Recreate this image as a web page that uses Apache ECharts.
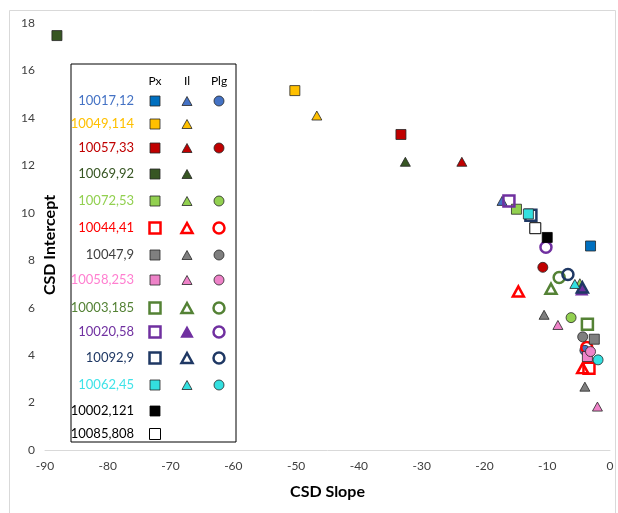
<!DOCTYPE html>
<html>
<head>
<meta charset="utf-8">
<script src="https://cdn.jsdelivr.net/npm/echarts@6/dist/echarts.min.js"></script>
<style>
  html, body { margin: 0; padding: 0; background: #fff; }
  #chart { width: 618px; height: 513px; }
</style>
</head>
<body>
<div id="chart"></div>
<script>
// ---------- data ----------
const samples = ['10017,12', '10049,114', '10057,33', '10069,92', '10072,53', '10044,41', '10047,9',
                 '10058,253', '10003,185', '10020,58', '10092,9', '10062,45', '10002,121', '10085,808'];
const minerals = ['Px', 'Il', 'Plg'];
const xTicks = [-90, -80, -70, -60, -50, -40, -30, -20, -10, 0];
const yTicks = [0, 2, 4, 6, 8, 10, 12, 14, 16, 18];

// [CSD slope, CSD intercept] per sample
const pxPoints = [
  [[-3.1, 8.6]],
  [[-50.2, 15.15]],
  [[-33.3, 13.3]],
  [[-88.1, 17.47]],
  [[-14.9, 10.15]],
  [[-3.35, 3.45]],
  [[-2.5, 4.67]],
  [[-3.6, 3.94]],
  [[-3.6, 5.3]],
  [[-16.1, 10.5]],
  [[-12.6, 9.9]],
  [[-13.0, 9.95]],
  [[-10.0, 8.96]],
  [[-11.9, 9.35]]
];
const ilPoints = [
  [[-17.2, 10.5]],
  [[-46.7, 14.1]],
  [[-23.6, 12.15]],
  [[-32.6, 12.15]],
  [[-4.8, 7.03]],
  [[-14.6, 6.68], [-4.35, 3.45]],
  [[-10.5, 5.7], [-4.0, 2.67]],
  [[-8.3, 5.27], [-2.0, 1.83]],
  [[-9.4, 6.8]],
  [[-4.5, 6.75]],
  [[-4.4, 6.85]],
  [[-5.6, 7.0]],
  [],
  []
];
const plgPoints = [
  [[-4.0, 4.2]],
  [],
  [[-10.7, 7.7]],
  [],
  [[-6.2, 5.58]],
  [[-3.7, 4.32]],
  [[-4.35, 4.77]],
  [[-3.1, 4.15]],
  [[-8.1, 7.27]],
  [[-10.2, 8.55]],
  [[-6.7, 7.4]],
  [[-1.9, 3.8]],
  [],
  []
];

// ---------- styles ----------
const textColors = ['#4472C4', '#FFC000', '#C00000', '#375623', '#92D050', '#FF0000', '#404040',
                    '#FF7FD0', '#548235', '#7030A0', '#1F3864', '#3FE3E8', '#000000', '#000000'];
const markColors = ['#4472C4', '#FFC000', '#C00000', '#375623', '#92D050', '#FF0000', '#7F7F7F',
                    '#EE82C8', '#548235', '#7030A0', '#1F3864', '#33E0E0', '#000000', '#FFFFFF'];
const pxColors   = ['#0070C0', '#FFC000', '#C00000', '#375623', '#92D050', '#FF0000', '#7F7F7F',
                    '#EE82C8', '#548235', '#7030A0', '#1F3864', '#33E0E0', '#000000', '#FFFFFF'];
const openMarks  = [false, false, false, false, false, true, false, false, true, true, true, false, false, false];
const symbols = { Px: 'rect', Il: 'triangle', Plg: 'circle' };
const FONT = 'Lato, "Liberation Sans", sans-serif';

function markStyle(i, m) {
  const open = openMarks[i];
  const col = m === 'Px' ? pxColors[i] : markColors[i];
  if (open) {
    // 10020,58 triangle is filled purple
    if (i === 9 && m === 'Il') return { fill: col, stroke: col, lw: 1.5, size: 11 };
    return { fill: 'rgba(255,255,255,0)', stroke: col, lw: 2.5, size: 11 };
  }
  if (i === 13) return { fill: '#FFFFFF', stroke: '#000000', lw: 1, size: 11 };
  return { fill: col, stroke: i === 12 ? '#000000' : '#262626', lw: 0.8, size: 10 };
}

const pointSets = { Px: pxPoints, Il: ilPoints, Plg: plgPoints };
const series = [];
samples.forEach((name, i) => {
  minerals.forEach(m => {
    const pts = pointSets[m][i];
    if (!pts.length) return;
    const st = markStyle(i, m);
    series.push({
      type: 'scatter',
      name: name + ' ' + m,
      data: pts,
      symbol: symbols[m],
      symbolSize: m === 'Il' ? [st.size, st.size - 1] : st.size,
      itemStyle: { color: st.fill, borderColor: st.stroke, borderWidth: st.lw, opacity: 1 },
      emphasis: { disabled: true },
      z: 3
    });
  });
});

// ---------- custom legend table ----------
const legX = 71, legY = 64, legW = 165, legH = 378;
const rowY = [101, 124, 148, 174, 201, 228, 255, 280, 308, 332, 358, 385, 411, 434];
const colX = { Px: 155, Il: 187, Plg: 219 };
const graphics = [];
graphics.push({
  type: 'rect', left: 7, top: 8, z: 0, silent: true,
  shape: { width: 606, height: 520 },
  style: { fill: 'none', stroke: '#D9D9D9', lineWidth: 1 }
});
graphics.push({
  type: 'rect', x: legX, y: legY, z: 10,
  shape: { width: legW, height: legH },
  style: { fill: '#FFFFFF', stroke: '#000000', lineWidth: 1 }
});
minerals.forEach(m => {
  graphics.push({
    type: 'text', x: colX[m], y: 81, z: 11,
    style: { text: m, font: '12px ' + FONT, fill: '#000', align: 'center', verticalAlign: 'middle' }
  });
});
function legendShape(m, cx, cy, st) {
  const s = st.size;
  const style = { fill: st.fill, stroke: st.stroke, lineWidth: st.lw };
  if (m === 'Px') return { type: 'rect', x: cx - s / 2, y: cy - s / 2, z: 11, shape: { width: s, height: s }, style };
  if (m === 'Plg') return { type: 'circle', x: cx, y: cy, z: 11, shape: { r: s / 2 }, style };
  return { type: 'polygon', x: cx, y: cy, z: 11,
           shape: { points: [[0, -s / 2 + 0.5], [s / 2, s / 2 - 0.5], [-s / 2, s / 2 - 0.5]] }, style };
}
samples.forEach((name, i) => {
  graphics.push({
    type: 'text', x: 134, y: rowY[i], z: 11,
    style: { text: name, font: '13px ' + FONT, fill: textColors[i], align: 'right', verticalAlign: 'middle' }
  });
  minerals.forEach(m => {
    if (!pointSets[m][i].length) return;
    graphics.push(legendShape(m, colX[m], rowY[i], markStyle(i, m)));
  });
});
// y axis title (sits just inside the plot edge as in the reference)
graphics.push({
  type: 'text', x: 50, y: 245, rotation: Math.PI / 2, z: 11,
  style: { text: 'CSD Intercept', font: 'bold 16px ' + FONT, fill: '#000', align: 'center', verticalAlign: 'middle' }
});

const chart = echarts.init(document.getElementById('chart'), null, { renderer: 'canvas' });
chart.setOption({
  animation: false,
  backgroundColor: '#FFFFFF',
  grid: { left: 45, right: 8, top: 23, bottom: 63, containLabel: false },
  xAxis: {
    type: 'value', min: xTicks[0], max: xTicks[xTicks.length - 1], interval: 10,
    name: 'CSD Slope', nameLocation: 'middle', nameGap: 34,
    nameTextStyle: { fontFamily: FONT, fontWeight: 'bold', fontSize: 16, color: '#000' },
    axisLine: { show: true, onZero: false, lineStyle: { color: '#D9D9D9', width: 1 } },
    axisTick: { show: false },
    splitLine: { show: false },
    axisLabel: { fontFamily: FONT, fontSize: 12, color: '#404040', margin: 10 }
  },
  yAxis: {
    type: 'value', min: yTicks[0], max: yTicks[yTicks.length - 1], interval: 2,
    axisLine: { show: false },
    axisTick: { show: false },
    splitLine: { show: false },
    axisLabel: { fontFamily: FONT, fontSize: 12, color: '#404040', margin: 10 }
  },
  graphic: graphics,
  series: series
});
</script>
</body>
</html>
